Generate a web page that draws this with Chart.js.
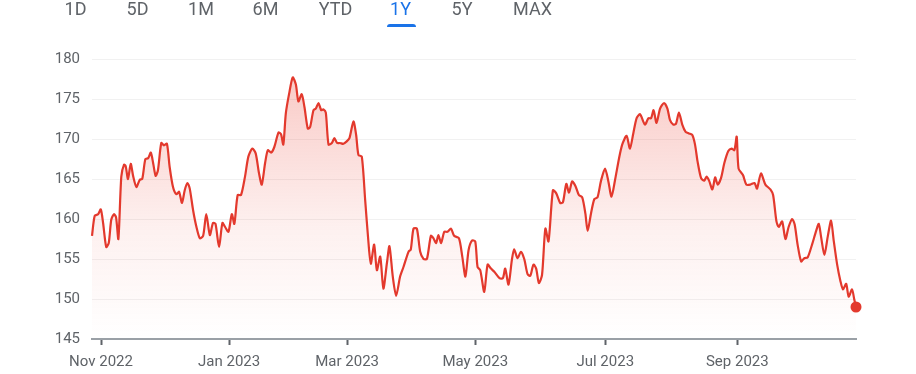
<!DOCTYPE html>
<html>
<head>
<meta charset="utf-8">
<script src="https://cdn.jsdelivr.net/npm/chart.js@4.4.0/dist/chart.umd.min.js"></script>
<style>
  body { margin: 0; background: #fff; font-family: Roboto, Arial, sans-serif; }
  #wrap { position: relative; width: 916px; height: 374px; overflow: hidden; }
  .tab { position: absolute; top: 0; font-size: 18px; line-height: 18px; color: #5f6368; transform: translateX(-50%); white-space: nowrap; }
  .tab.on { color: #1a73e8; }
  #bar { position: absolute; left: 387px; top: 24px; width: 29px; height: 3px; background: #1a73e8; border-radius: 3px 3px 0 0; }
  canvas { position: absolute; left: 0; top: 0; }
</style>
</head>
<body>
<div id="wrap">
  <canvas id="chart" width="916" height="374"></canvas>
  <div id="tabs"></div>
  <div id="bar"></div>
</div>
<script>
var ranges = ["1D", "5D", "1M", "6M", "YTD", "1Y", "5Y", "MAX"];
var activeRange = "1Y";

// position on the time axis, in days from 1 Nov 2022
var days = [
  -4.3, -3.0, -1.4, -0.1, 1.0, 2.5, 3.7, 4.9, 6.2, 7.2,
  8.3, 9.7, 11.0, 11.8, 12.9, 14.2, 15.4, 16.9, 18.5, 19.7,
  21.2, 22.5, 23.8, 24.9, 26.1, 27.2, 28.8, 30.1, 31.5, 32.8,
  34.4, 36.0, 37.3, 38.7, 40.0, 41.3, 42.4, 44.0, 45.6, 47.2,
  48.8, 50.3, 52.0, 53.5, 54.7, 56.4, 58.0, 59.3, 60.9, 62.5,
  63.7, 65.3, 66.9, 68.8, 70.4, 72.3, 73.9, 75.5, 76.8, 78.4,
  79.7, 81.3, 82.8, 84.8, 86.0, 87.1, 88.3, 89.9, 91.6, 93.1,
  94.3, 95.9, 97.2, 98.8, 99.9, 101.5, 102.6, 103.9, 105.2, 106.3,
  107.4, 108.7, 110.3, 111.5, 112.8, 114.2, 115.8, 117.4, 118.7, 120.6,
  121.9, 123.0, 124.6, 126.2, 127.8, 128.9, 130.5, 131.8, 133.4, 134.9,
  136.6, 137.8, 139.4, 141.0, 142.9, 144.5, 146.9, 148.0, 149.3, 150.9,
  152.5, 154.1, 155.7, 157.6, 158.8, 160.1, 161.2, 162.5, 164.0, 165.5,
  167.2, 168.7, 171.0, 172.6, 174.1, 175.6, 177.2, 178.8, 179.9, 181.2,
  183.1, 184.7, 186.3, 187.9, 190.4, 192.0, 193.1, 194.7, 196.3, 197.4,
  199.0, 200.6, 202.2, 203.8, 205.1, 206.6, 207.9, 209.2, 210.7, 212.3,
  213.8, 215.9, 217.5, 219.4, 220.7, 222.3, 223.6, 225.1, 226.7, 228.3,
  229.9, 231.4, 232.5, 234.1, 235.7, 237.2, 238.9, 240.8, 242.4, 243.9,
  245.6, 247.5, 249.0, 251.1, 252.7, 254.3, 255.9, 257.5, 259.9, 261.5,
  262.8, 264.0, 265.4, 267.1, 269.0, 270.6, 271.8, 273.4, 274.7, 276.1,
  277.7, 279.3, 280.9, 282.5, 283.8, 285.0, 286.7, 288.2, 289.3, 290.5,
  292.1, 293.4, 294.6, 296.2, 297.8, 299.7, 301.3, 302.6, 303.7, 304.6,
  306.7, 308.3, 310.2, 312.2, 313.4, 315.3, 317.4, 319.8, 321.1, 322.7,
  323.8, 325.4, 327.0, 328.5, 330.2, 331.4, 332.8, 334.5, 336.0, 337.6,
  339.7, 341.3, 342.9, 344.0, 345.6, 347.2, 348.8, 350.0, 351.7, 353.3,
  354.5, 356.0, 357.2, 358.8, 359.9, 360.7
];

var prices = [
  157.9, 160.4, 160.6, 161.2, 159.5, 156.5, 157.0, 159.9, 160.6, 160.2,
  157.5, 165.3, 166.8, 166.6, 165.0, 166.9, 165.3, 164.0, 164.9, 165.0,
  167.5, 167.6, 168.3, 167.0, 165.4, 166.1, 169.5, 169.2, 169.4, 166.5,
  164.0, 163.1, 163.4, 162.0, 163.6, 164.5, 163.8, 161.1, 159.0, 157.6,
  157.9, 160.6, 158.0, 159.5, 159.4, 156.5, 159.5, 159.0, 158.4, 160.6,
  159.4, 163.0, 163.0, 165.3, 167.8, 168.8, 168.2, 165.7, 164.3, 167.0,
  168.6, 168.3, 169.0, 170.8, 170.6, 169.3, 173.2, 175.7, 177.7, 176.8,
  174.7, 175.6, 174.0, 171.3, 171.5, 173.6, 173.8, 174.5, 173.6, 173.7,
  173.3, 169.3, 169.5, 170.1, 169.5, 169.5, 169.4, 169.7, 170.1, 172.2,
  170.5, 168.0, 167.8, 162.4, 157.0, 154.4, 156.8, 153.6, 155.3, 151.3,
  154.5, 156.6, 152.8, 150.4, 152.8, 154.0, 155.9, 156.2, 158.8, 158.8,
  155.9, 155.0, 155.0, 157.9, 157.6, 157.0, 158.0, 157.0, 158.4, 158.4,
  158.8, 157.9, 157.6, 155.3, 152.8, 156.1, 157.3, 157.2, 154.0, 153.6,
  150.9, 154.3, 153.8, 153.4, 152.6, 152.6, 153.8, 151.8, 154.9, 156.2,
  155.1, 155.9, 155.0, 153.1, 152.9, 154.3, 153.8, 152.0, 153.0, 158.8,
  157.2, 163.6, 163.2, 162.0, 162.1, 164.4, 163.3, 164.7, 164.1, 163.0,
  162.7, 160.7, 158.5, 160.7, 162.5, 162.7, 164.8, 166.3, 164.7, 162.8,
  164.9, 167.6, 169.3, 170.4, 168.8, 170.7, 172.6, 173.1, 171.8, 172.6,
  172.6, 173.6, 172.0, 173.8, 174.5, 173.8, 172.4, 171.8, 171.9, 173.3,
  171.8, 170.9, 170.7, 170.5, 169.3, 167.2, 165.1, 164.8, 165.3, 164.8,
  163.7, 165.2, 164.3, 165.1, 167.0, 168.5, 168.8, 168.6, 170.3, 166.3,
  165.5, 164.3, 164.3, 164.5, 163.8, 165.7, 164.3, 163.7, 163.0, 159.7,
  159.0, 159.7, 157.5, 159.0, 160.0, 159.3, 156.8, 154.7, 155.1, 155.2,
  156.8, 158.2, 159.4, 157.8, 155.5, 157.8, 159.8, 157.4, 154.3, 152.2,
  151.2, 151.9, 150.3, 151.2, 149.9, 149.0
];

var tickDays = [0, 61.2, 117.6, 178.8, 240.9, 304];
var tickLabels = ["Nov 2022", "Jan 2023", "Mar 2023", "May 2023", "Jul 2023", "Sep 2023"];

// range buttons along the top
var tabCenters = [75.5, 137.5, 201, 265.5, 335.5, 400.5, 462, 532.5];
var tabs = document.getElementById("tabs");
for (var i = 0; i < ranges.length; i++) {
  var s = document.createElement("span");
  s.className = "tab" + (ranges[i] == activeRange ? " on" : "");
  s.style.left = tabCenters[i] + "px";
  s.textContent = ranges[i];
  tabs.appendChild(s);
}

var points = days.map(function(d, i) { return { x: d, y: prices[i] }; });
var last = points.length - 1;
var red = "#e3392d";

new Chart(document.getElementById("chart"), {
  type: "line",
  data: {
    datasets: [{
      data: points,
      borderColor: red,
      borderWidth: 2.2,
      tension: 0.25,
      fill: "start",
      backgroundColor: function(ctx) {
        var area = ctx.chart.chartArea;
        if (!area) return "rgba(234,67,53,0.1)";
        var g = ctx.chart.ctx.createLinearGradient(0, area.top, 0, area.bottom);
        g.addColorStop(0, "rgba(234,67,53,0.30)");
        g.addColorStop(0.6, "rgba(234,67,53,0.08)");
        g.addColorStop(1, "rgba(234,67,53,0)");
        return g;
      },
      pointRadius: function(ctx) { return ctx.dataIndex === last ? 5.5 : 0; },
      pointBackgroundColor: red,
      pointBorderWidth: 0,
      clip: false
    }]
  },
  options: {
    responsive: false,
    animation: false,
    events: [],
    layout: { padding: { top: 59, right: 60, left: 0, bottom: 0 } },
    plugins: { legend: { display: false }, tooltip: { enabled: false } },
    scales: {
      x: {
        type: "linear",
        min: days[0],
        max: days[last],
        afterBuildTicks: function(s) {
          s.ticks = tickDays.map(function(v) { return { value: v }; });
        },
        afterFit: function(s) { s.height = 35; },
        ticks: {
          autoSkip: false,
          maxRotation: 0,
          padding: 8,
          color: "#5f6368",
          font: { family: "Roboto", size: 15 },
          callback: function(v) {
            var i = tickDays.indexOf(v);
            return i < 0 ? "" : tickLabels[i];
          }
        },
        grid: { drawOnChartArea: false, tickLength: 6, tickColor: "#5f6368", tickWidth: 2 },
        border: { display: true, color: "#9aa0a6", width: 2 }
      },
      y: {
        min: 145,
        max: 180,
        afterFit: function(s) { s.width = 92; },
        ticks: { stepSize: 5, padding: 12, color: "#5f6368", font: { family: "Roboto", size: 15 } },
        grid: { color: "#f1f1f1", drawTicks: false },
        border: { display: false }
      }
    }
  }
});
</script>
</body>
</html>
